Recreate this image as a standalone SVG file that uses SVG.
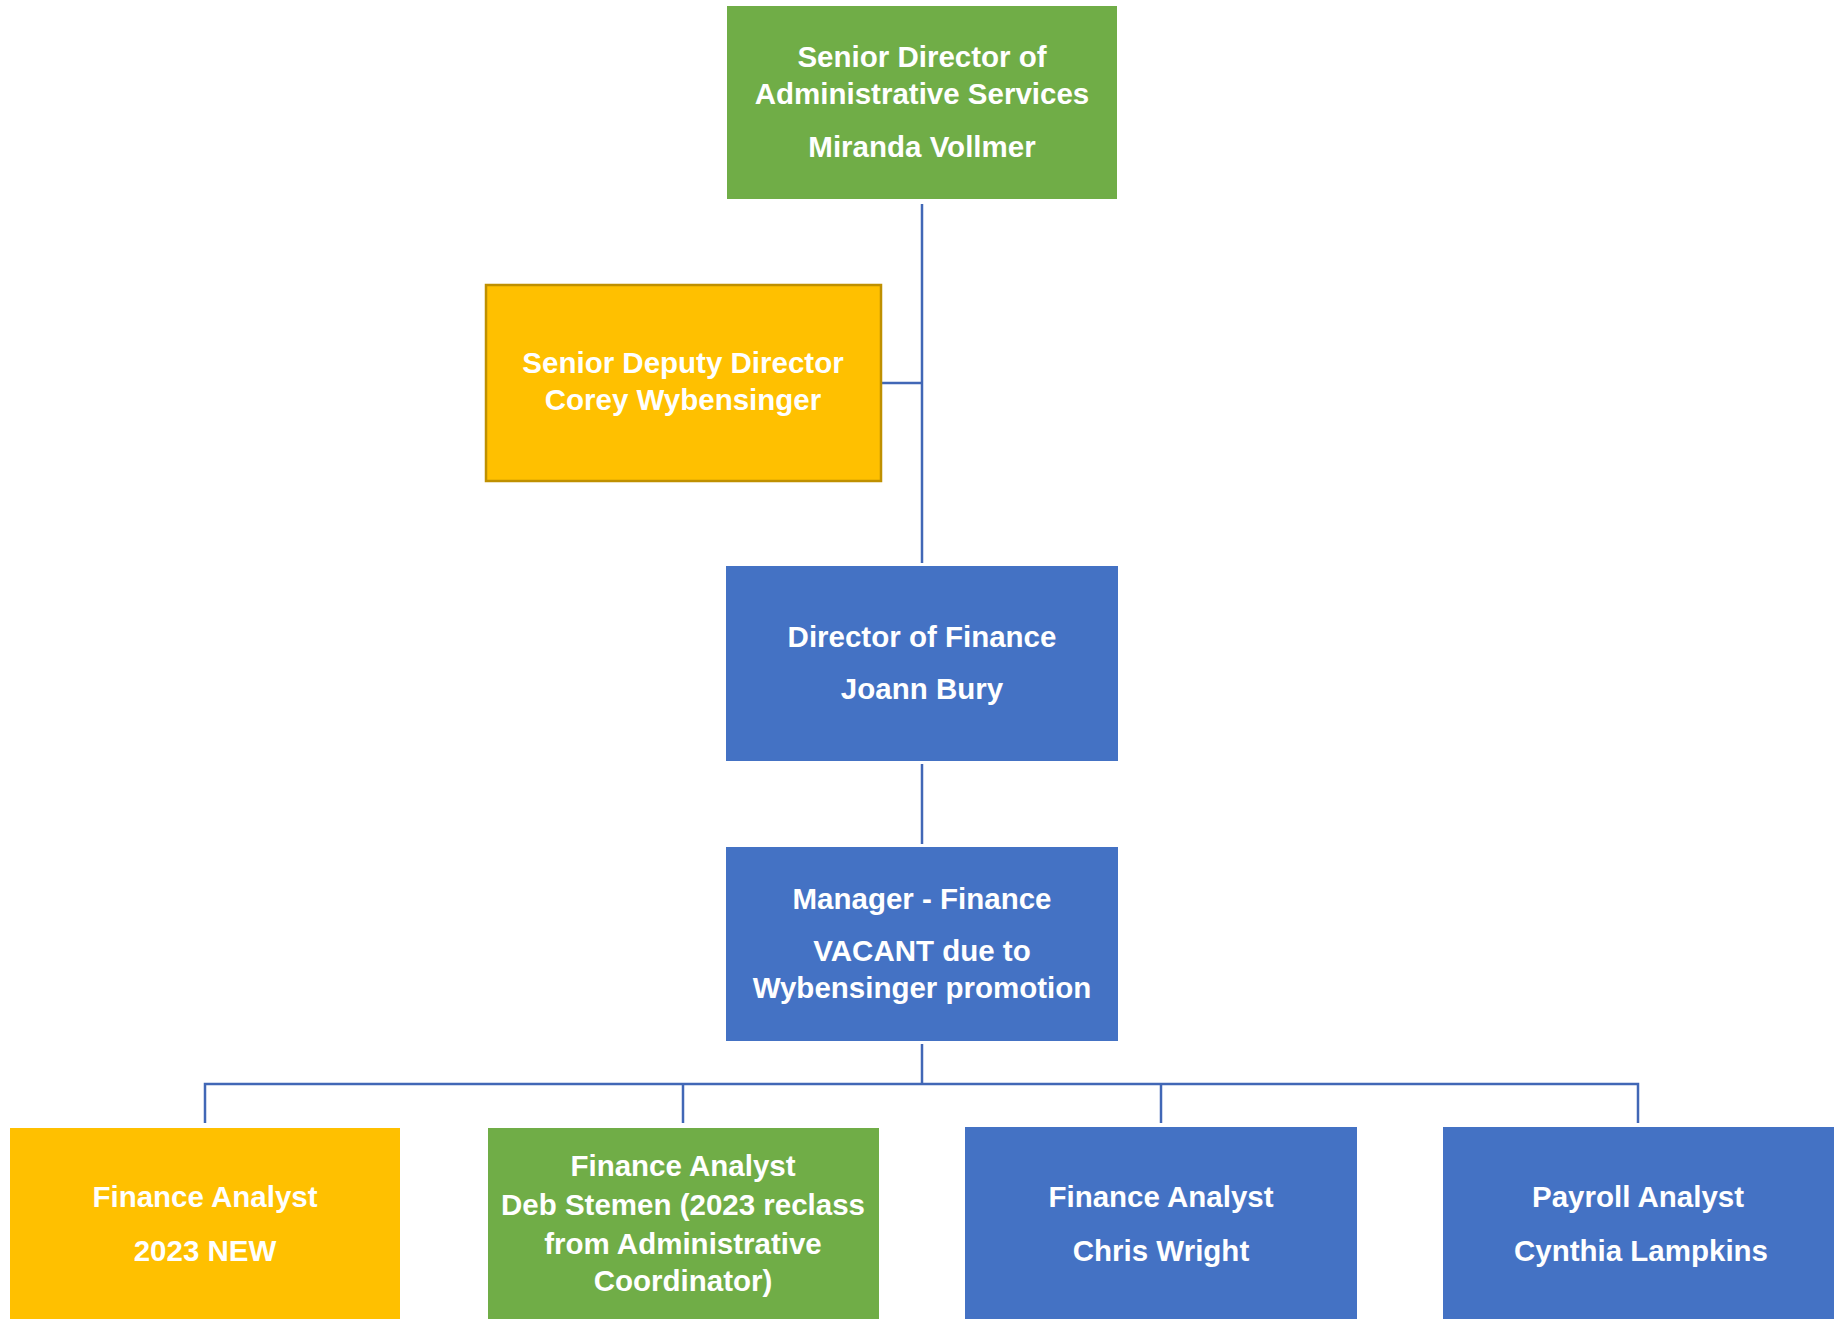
<svg xmlns="http://www.w3.org/2000/svg" width="1843" height="1319" viewBox="0 0 1843 1319">
<style>
.t{font-family:"Liberation Sans",Arial,sans-serif;font-weight:bold;font-size:29.5px;fill:#ffffff;text-anchor:middle}
.g{fill:#70AD47}
.y{fill:#FFC000}
.b{fill:#4472C4}
.c{stroke:#4167B6;stroke-width:2.5;fill:none}
</style>
<rect width="1843" height="1319" fill="#ffffff"/>
<g id="connectors">
<path class="c" d="M922,204 V563"/>
<path class="c" d="M882,383 H922"/>
<path class="c" d="M922,764 V844"/>
<path class="c" d="M922,1044 V1084"/>
<path class="c" d="M205,1123 V1084 H1638 V1123"/>
<path class="c" d="M683,1084 V1123"/>
<path class="c" d="M1161,1084 V1123"/>
</g>
<g id="senior-director">
<rect class="g" x="727" y="6" width="390" height="193"/>
<text class="t" x="922" y="67">Senior Director of</text>
<text class="t" x="922" y="104">Administrative Services</text>
<text class="t" x="922" y="157">Miranda Vollmer</text>
</g>
<g id="deputy-director">
<rect class="y" x="486" y="285" width="395" height="196" stroke="#BF9000" stroke-width="2.5"/>
<text class="t" x="683" y="373">Senior Deputy Director</text>
<text class="t" x="683" y="410">Corey Wybensinger</text>
</g>
<g id="director-finance">
<rect class="b" x="726" y="566" width="392" height="195"/>
<text class="t" x="922" y="647">Director of Finance</text>
<text class="t" x="922" y="699">Joann Bury</text>
</g>
<g id="manager-finance">
<rect class="b" x="726" y="847" width="392" height="194"/>
<text class="t" x="922" y="909">Manager - Finance</text>
<text class="t" x="922" y="961">VACANT due to</text>
<text class="t" x="922" y="998">Wybensinger promotion</text>
</g>
<g id="analyst-new">
<rect class="y" x="10" y="1128" width="390" height="191"/>
<text class="t" x="205" y="1207">Finance Analyst</text>
<text class="t" x="205" y="1261">2023 NEW</text>
</g>
<g id="analyst-stemen">
<rect class="g" x="488" y="1128" width="391" height="191"/>
<text class="t" x="683" y="1176">Finance Analyst</text>
<text class="t" x="683" y="1215">Deb Stemen (2023 reclass</text>
<text class="t" x="683" y="1254">from Administrative</text>
<text class="t" x="683" y="1291">Coordinator)</text>
</g>
<g id="analyst-wright">
<rect class="b" x="965" y="1127" width="392" height="192"/>
<text class="t" x="1161" y="1207">Finance Analyst</text>
<text class="t" x="1161" y="1261">Chris Wright</text>
</g>
<g id="payroll-lampkins">
<rect class="b" x="1443" y="1127" width="391" height="192"/>
<text class="t" x="1638" y="1207">Payroll Analyst</text>
<text class="t" x="1641" y="1261">Cynthia Lampkins</text>
</g>
</svg>
